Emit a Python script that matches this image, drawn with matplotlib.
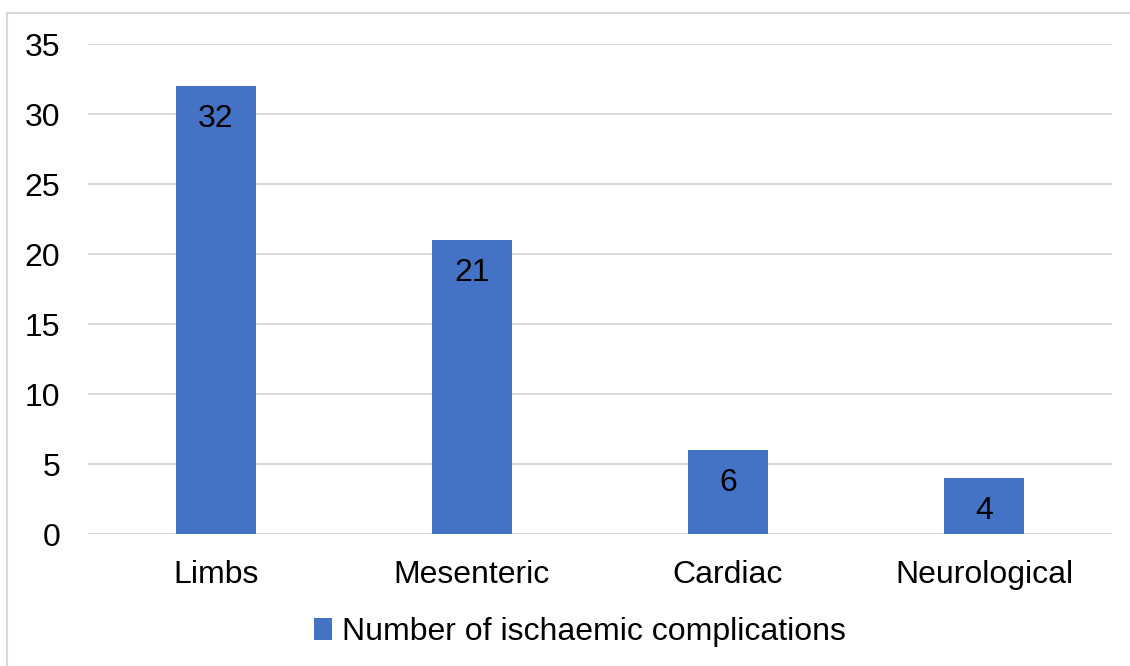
import matplotlib
matplotlib.use("Agg")
import matplotlib.pyplot as plt
from matplotlib.patches import Rectangle, Patch

categories = ["Limbs", "Mesenteric", "Cardiac", "Neurological"]
values = [32, 21, 6, 4]
series_name = "Number of ischaemic complications"
y_ticks = [0, 5, 10, 15, 20, 25, 30, 35]

plt.rcParams["font.family"] = ["Liberation Sans", "DejaVu Sans"]
W, H = 1130, 666
fig = plt.figure(figsize=(W / 100, H / 100), dpi=100)
bar_color = "#4472C4"
grid_color = "#D9D9D9"
fs = 23

# outer chart border
fig.patches.append(Rectangle((7 / W, -0.05), 1.1, 1 - 13 / H + 0.05,
                             transform=fig.transFigure, fill=False,
                             edgecolor=grid_color, linewidth=1.5))

ax = fig.add_axes([88 / W, 1 - 534 / H, (1112 - 88) / W, (534 - 44) / H])
x = range(len(categories))
bars = ax.bar(x, values, width=0.3125, color=bar_color, zorder=3)

ax.set_xlim(-0.5, len(categories) - 0.5)
ax.set_ylim(0, 35)
ax.set_yticks(y_ticks)
ax.set_xticks(list(x))
ax.set_xticklabels(categories)
ax.tick_params(axis="both", length=0, labelsize=fs, colors="black")
ax.tick_params(axis="y", pad=20)
ax.tick_params(axis="x", pad=19)
ax.yaxis.grid(True, color=grid_color, linewidth=1.5, zorder=0)
ax.set_axisbelow(True)
for s in ax.spines.values():
    s.set_visible(False)

for rect, v in zip(bars, values):
    ax.annotate(str(v), (rect.get_x() + rect.get_width() / 2, v),
                xytext=(0, -23.5), textcoords="offset points",
                ha="center", va="center", fontsize=fs, color="black", zorder=4)

fig.legend(handles=[Patch(facecolor=bar_color, label=series_name)],
           loc="center", bbox_to_anchor=(580 / W, 1 - 632 / H),
           frameon=False, fontsize=fs, handlelength=0.55, handleheight=0.7,
           handletextpad=0.3, borderpad=0)

fig.savefig("out.png", dpi=100, facecolor="white")
